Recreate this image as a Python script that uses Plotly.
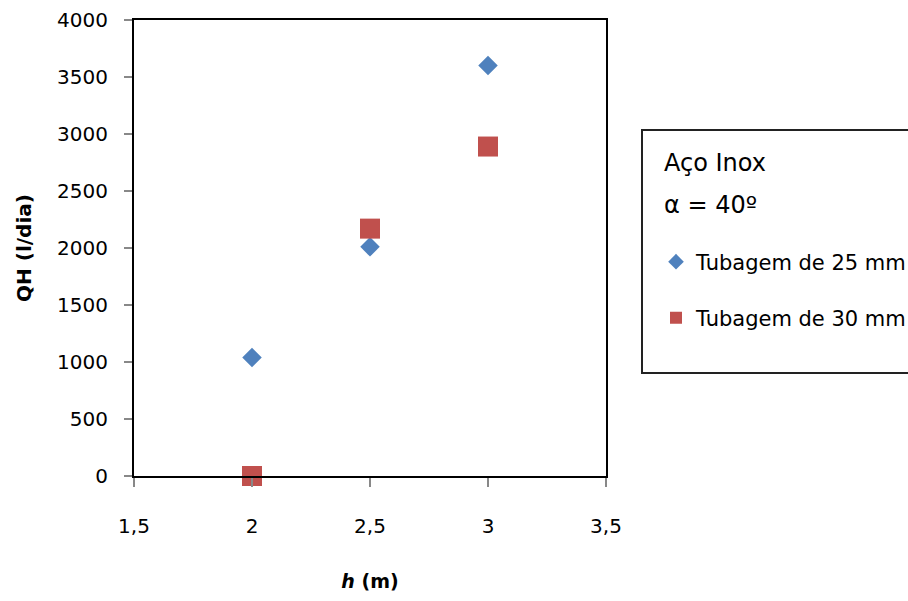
import plotly.graph_objects as go

h_values = [2, 2.5, 3]
qh_25mm = [1040, 2010, 3600]
qh_30mm = [0, 2170, 2890]
x_ticks = [1.5, 2, 2.5, 3, 3.5]
x_tick_labels = ["1,5", "2", "2,5", "3", "3,5"]
y_ticks = [0, 500, 1000, 1500, 2000, 2500, 3000, 3500, 4000]
legend_title_lines = ["Aço Inox", "α = 40º"]

FONT = "'DejaVu Sans', sans-serif"

# plot area in pixels: x 134..606, y 20..476
def px(X):
    return (X - 134) / 472.0

def py(Y):
    return (476 - Y) / 456.0

fig = go.Figure()
fig.add_trace(go.Scatter(x=h_values, y=qh_25mm, mode="markers", name="Tubagem de 25 mm",
                         marker=dict(symbol="diamond", size=15, color="#4F81BD"),
                         cliponaxis=False, legend="legend"))
fig.add_trace(go.Scatter(x=h_values, y=qh_30mm, mode="markers", name="Tubagem de 30 mm",
                         marker=dict(symbol="square", size=20, color="#C0504D"),
                         cliponaxis=False, legend="legend2"))

leg_common = dict(xanchor="left", yanchor="middle", bgcolor="rgba(0,0,0,0)",
                  borderwidth=0, font=dict(size=21, family=FONT, color="black"),
                  itemsizing="constant")

fig.update_layout(
    width=908, height=601,
    margin=dict(l=134, r=302, t=20, b=125, autoexpand=False),
    paper_bgcolor="white", plot_bgcolor="white",
    font=dict(family=FONT, size=20, color="black"),
    showlegend=True,
    legend=dict(x=px(656), y=py(262), **leg_common),
    legend2=dict(x=px(656), y=py(318), **leg_common),
    shapes=[dict(type="rect", xref="paper", yref="paper",
                 x0=px(642), x1=px(920), y0=py(373), y1=py(130),
                 line=dict(color="#222", width=2), fillcolor="rgba(0,0,0,0)", layer="below")],
    annotations=[
        dict(text=legend_title_lines[0], xref="paper", yref="paper", x=px(662), y=py(163),
             xanchor="left", yanchor="middle", showarrow=False, font=dict(size=24, family=FONT)),
        dict(text=legend_title_lines[1], xref="paper", yref="paper", x=px(662), y=py(205),
             xanchor="left", yanchor="middle", showarrow=False, font=dict(size=24, family=FONT)),
    ],
    xaxis=dict(
        range=[1.5, 3.5], tickvals=x_ticks, ticktext=x_tick_labels,
        showgrid=False, zeroline=False,
        showline=True, linecolor="black", linewidth=2, mirror=True,
        ticks="outside", ticklen=9, tickcolor="#888", tickwidth=1.5,
        ticklabelstandoff=22,
        tickfont=dict(size=20),
        title=dict(text="<b><i>h</i> (m)</b>", font=dict(size=19), standoff=38),
    ),
    yaxis=dict(
        range=[0, 4000], tickvals=y_ticks,
        showgrid=False, zeroline=False,
        showline=True, linecolor="black", linewidth=2, mirror=True,
        ticks="outside", ticklen=8, tickcolor="#888", tickwidth=1.5,
        ticklabelstandoff=12,
        tickfont=dict(size=20),
        title=dict(text="<b>QH (l/dia)</b>", font=dict(size=20), standoff=20),
    ),
)

fig.write_html("out.html")
